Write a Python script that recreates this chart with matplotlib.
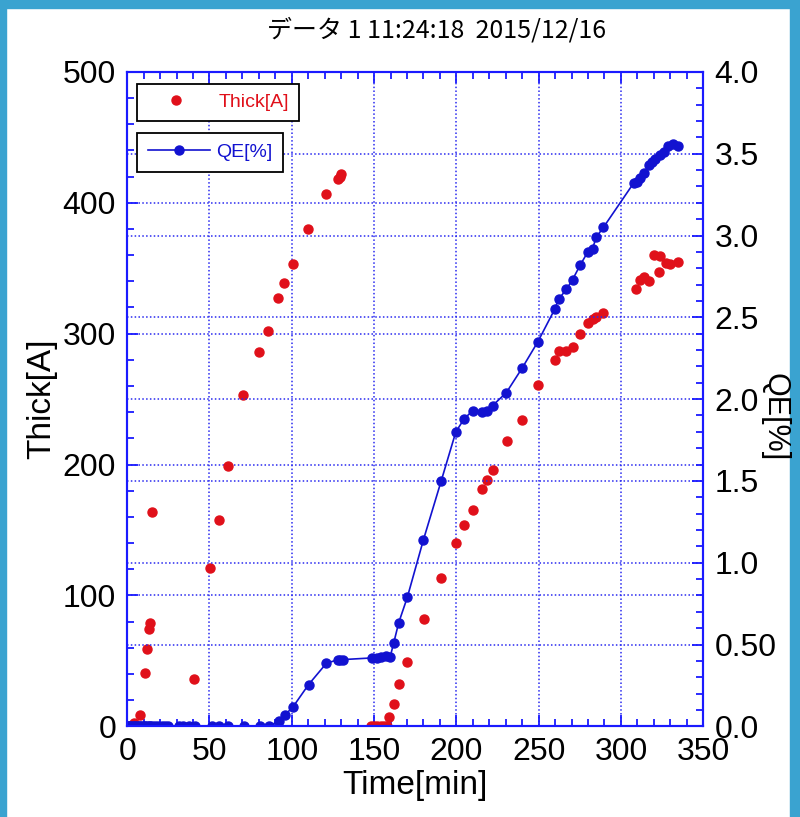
import numpy as np
import matplotlib.pyplot as plt
from matplotlib.patches import Rectangle
from matplotlib.ticker import MultipleLocator

plt.rcParams['font.family'] = ['Liberation Sans', 'DejaVu Sans']

# Thick[A] (left axis)
thick_t = [1, 2.5, 4.3, 7.9, 10.7, 12.0, 13.0, 14.0, 15.0, 40.5, 50.6, 55.9, 61.2,
           70.2, 80.3, 85.6, 91.8, 95.4, 100.8, 109.8, 121.1, 128.3, 129.3, 130.2,
           148, 150, 152, 154, 156, 158, 159.0, 162.2, 164.9, 170.0, 180.1, 190.9,
           199.7, 204.8, 210.0, 215.3, 218.6, 222.0, 230.5, 239.7, 249.5,
           259.8, 262.1, 266.8, 270.6, 275.3, 279.9, 282.8, 285.0, 289.4,
           309.1, 311.3, 314.2, 316.8, 320.4, 323.3, 323.9, 327.3, 330.0, 334.6]
thick_v = [0, 0, 2.8, 8.7, 41, 59, 74, 79, 164, 36, 121, 158, 199,
           253, 286, 302, 327, 339, 353, 380, 407, 418, 420, 422,
           0, 0, 0, 0, 0, 0, 7, 17, 32, 49, 82, 113,
           140, 154, 165, 181, 188, 196, 218, 234, 261,
           280, 287, 287, 290, 300, 308, 311, 313, 316,
           334, 341, 343, 340, 360, 347, 359, 354, 353, 355]

# QE[%] (right axis)
qe_t = [0, 1, 2, 3, 4, 5, 6, 7, 8, 9, 10, 11, 12, 13, 14, 15, 17, 19, 21, 23, 25,
        31.2, 34.2, 37.3, 40.9, 51.4, 55.5, 61.2, 70.7, 80.8, 85.9,
        92.0, 95.6, 100.7, 110.2, 121.1, 127.8, 129.5, 131.4, 148.7, 151.5,
        154.0, 157.3, 159.8, 162.0, 165.0, 170.2, 180.0, 190.8, 199.7, 204.8,
        210.0, 215.3, 218.6, 222.0, 230.4, 240.0, 249.5, 259.8, 262.1, 266.8,
        270.6, 275.3, 279.9, 282.8, 285.0, 289.4, 307.7, 309.7, 311.7, 314.2,
        316.8, 318.8, 320.8, 323.9, 326.3, 328.9, 331.9, 334.6]
qe_v = [0] * 31 + [
        0.032, 0.067, 0.118, 0.255, 0.386, 0.406, 0.406, 0.408, 0.418, 0.42,
        0.425, 0.428, 0.425, 0.512, 0.634, 0.788, 1.14, 1.50, 1.80, 1.88,
        1.93, 1.92, 1.93, 1.96, 2.04, 2.19, 2.35, 2.55, 2.61, 2.67,
        2.73, 2.82, 2.90, 2.92, 2.99, 3.05, 3.32, 3.33, 3.35, 3.38,
        3.43, 3.45, 3.47, 3.49, 3.51, 3.55, 3.56, 3.55]

red = '#e0101a'
blue = '#1212d0'
grid_c = '#2a2af0'

fig = plt.figure(figsize=(8.0, 8.17), dpi=100)
ax = fig.add_axes([0.159, 0.111, 0.72, 0.801])
ax2 = ax.twinx()

ax.plot(thick_t, thick_v, 'o', color=red, ms=6.5, mec=red, label='Thick[A]')
ax2.plot(qe_t, qe_v, '-o', color=blue, lw=1.2, ms=6.5, mec=blue, label='QE[%]')

ax.set_xlim(0, 350)
ax.set_ylim(0, 500)
ax2.set_ylim(0, 4.0)

ax.xaxis.set_major_locator(MultipleLocator(50))
ax.xaxis.set_minor_locator(MultipleLocator(10))
ax.yaxis.set_major_locator(MultipleLocator(100))
ax.yaxis.set_minor_locator(MultipleLocator(20))
ax2.yaxis.set_minor_locator(MultipleLocator(0.1))
ax2.set_yticks(np.arange(0, 4.01, 0.5))
ax2.set_yticklabels(['0.0', '0.50', '1.0', '1.5', '2.0', '2.5', '3.0', '3.5', '4.0'])

ax.grid(True, which='major', color=grid_c, ls=(0, (1, 1.5)), lw=1.1)
ax2.grid(True, which='major', axis='y', color=grid_c, ls=(0, (1, 1.5)), lw=1.1)

for a in (ax, ax2):
    for s in a.spines.values():
        s.set_color('#1a1aff')
        s.set_linewidth(1.5)
ax.tick_params(which='both', direction='in', color='#1a1aff', labelsize=23,
               top=True, right=False, labelcolor='black', width=1.3)
ax.tick_params(which='major', length=8, pad=8)
ax.tick_params(which='minor', length=5)
ax2.tick_params(which='both', direction='in', color='#1a1aff', labelsize=23,
                labelcolor='black', width=1.3)
ax2.tick_params(which='major', length=8, pad=8)
ax2.tick_params(which='minor', length=5)

ax.set_xlabel('Time[min]', fontsize=24, labelpad=2)
ax.set_ylabel('Thick[A]', fontsize=24, labelpad=4)
fig.text(0.968, 0.49, 'QE[%]', rotation=270, ha='center', va='center', fontsize=22)

leg1 = ax.legend(loc='upper left', bbox_to_anchor=(0.017, 0.982), fontsize=14,
                 frameon=True, fancybox=False, edgecolor='black', framealpha=1,
                 handlelength=3.0, borderpad=0.5, handletextpad=0.7, borderaxespad=0)
leg1.get_frame().set_linewidth(1.3)
for txt in leg1.get_texts():
    txt.set_color(red)
leg2 = ax2.legend(loc='upper left', bbox_to_anchor=(0.017, 0.907), fontsize=14,
                  frameon=True, fancybox=False, edgecolor='black', framealpha=1,
                  handlelength=3.2, borderpad=0.55, handletextpad=0.3, borderaxespad=0)
leg2.get_frame().set_linewidth(1.3)
for txt in leg2.get_texts():
    txt.set_color(blue)

fig.text(0.546, 0.963, 'データ 1 11:24:18  2015/12/16', ha='center', va='center',
         fontsize=18, family=['Noto Sans CJK JP', 'DejaVu Sans'])

# light blue frame strips
frame_c = '#3aa3d0'
fig.patches.append(Rectangle((0, 0), 0.008, 1, transform=fig.transFigure, color=frame_c, zorder=0))
fig.patches.append(Rectangle((0.988, 0), 0.012, 1, transform=fig.transFigure, color=frame_c, zorder=0))
fig.patches.append(Rectangle((0, 0.99), 1, 0.01, transform=fig.transFigure, color=frame_c, zorder=0))

plt.savefig('out.png', dpi=100)
